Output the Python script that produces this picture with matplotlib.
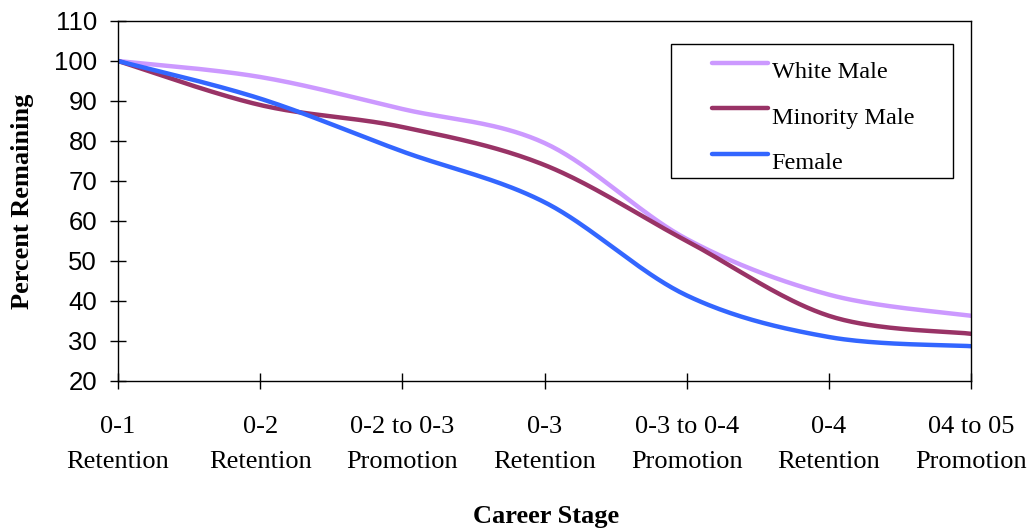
"""Retention curves by demographic group across career stages."""

import matplotlib

matplotlib.use("Agg")
import matplotlib.pyplot as plt
import numpy as np
from matplotlib.patches import Rectangle

stages = [
    "0-1\nRetention",
    "0-2\nRetention",
    "0-2 to 0-3\nPromotion",
    "0-3\nRetention",
    "0-3 to 0-4\nPromotion",
    "0-4\nRetention",
    "04 to 05\nPromotion",
]
white_male = [100, 96, 88, 79.5, 55.5, 41.6, 36.3]
minority_male = [100, 89, 83.5, 74, 55, 36.3, 31.8]
female = [100, 90.6, 77.4, 64.7, 41.4, 31, 28.7]

series = [
    ("White Male", white_male, "#CC99FF"),
    ("Minority Male", minority_male, "#993366"),
    ("Female", female, "#3366FF"),
]

SERIF = "Liberation Serif"
SANS = "Liberation Sans"


def smooth_curve(xs, ys, steps=40):
    """Catmull-Rom style Bezier smoothing through every point."""
    pts = np.column_stack([xs, ys]).astype(float)
    padded = np.vstack([pts[0], pts, pts[-1]])
    t = np.linspace(0, 1, steps)[:, None]
    out = []
    for i in range(len(pts) - 1):
        p0 = padded[i + 1]
        p3 = padded[i + 2]
        p1 = p0 + (padded[i + 2] - padded[i]) / 6
        p2 = p3 - (padded[i + 3] - padded[i + 1]) / 6
        seg = ((1 - t) ** 3) * p0 + 3 * ((1 - t) ** 2) * t * p1 + 3 * (1 - t) * t ** 2 * p2 + t ** 3 * p3
        out.append(seg if i == 0 else seg[1:])
    curve = np.vstack(out)
    return curve[:, 0], curve[:, 1]


W, H = 1031, 529
fig = plt.figure(figsize=(W / 100, H / 100), dpi=100)
ax = fig.add_axes([118 / W, 1 - 381 / H, (971 - 118) / W, (381 - 21) / H])

x = np.arange(len(stages))
handles = []
for name, values, color in series:
    sx, sy = smooth_curve(x, values)
    (line,) = ax.plot(sx, sy, color=color, lw=3.2, solid_capstyle="round", label=name)
    handles.append(line)

ax.set_xlim(0, len(stages) - 1)
ax.set_ylim(20, 110)
ax.set_yticks(range(20, 111, 10))
ax.set_xticks(x)
ax.set_xticklabels(stages, fontfamily=SERIF, fontsize=19, linespacing=1.75)
for lbl in ax.get_yticklabels():
    lbl.set_fontfamily(SANS)
    lbl.set_fontsize(18.5)
ax.tick_params(axis="y", direction="inout", length=12, width=1, pad=9)
ax.tick_params(axis="x", direction="inout", length=11, width=1, pad=20)

for spine in ax.spines.values():
    spine.set_linewidth(1)
    spine.set_color("black")

fig.text(546 / W, 1 - 516 / H, "Career Stage", ha="center", va="center",
         fontfamily=SERIF, fontsize=19, fontweight="bold")
fig.text(23 / W, 1 - 201 / H, "Percent Remaining", ha="center", va="center",
         rotation=90, fontfamily=SERIF, fontsize=19, fontweight="bold")

# legend box with the entries placed inside it
fig.patches.append(Rectangle((671 / W, 1 - 178 / H), (953 - 671) / W, (178 - 44) / H,
                             transform=fig.transFigure, fill=False, edgecolor="black", lw=1))
leg = fig.legend(handles=handles, loc="upper left", bbox_to_anchor=(712 / W, 1 - 54 / H),
                 frameon=False, borderpad=0, borderaxespad=0, handlelength=2.3,
                 handletextpad=0.15, labelspacing=0.97,
                 prop={"family": SERIF, "size": 17.5})
# labels sit a little below their line samples
for txt in leg.get_texts():
    txt.set_y(-7)

fig.savefig("out.png", dpi=100)
